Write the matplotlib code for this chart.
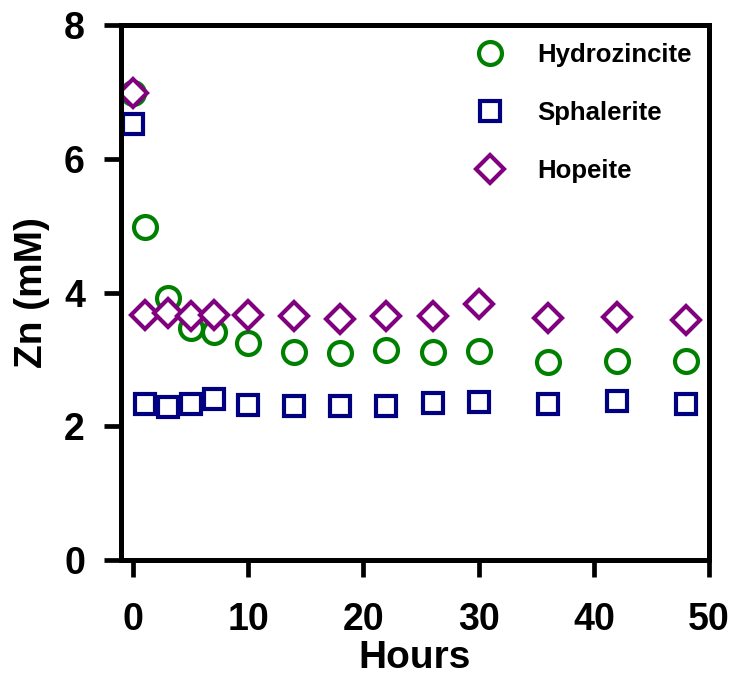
import matplotlib
matplotlib.use("Agg")
import matplotlib.pyplot as plt

plt.rcParams['font.family'] = ['Liberation Sans', 'DejaVu Sans']
plt.rcParams['font.weight'] = 'bold'

# Zn concentration (mM) over time (hours)
hours = [0, 1, 3, 5, 7, 10, 14, 18, 22, 26, 30, 36, 42, 48]
hydrozincite = [6.98, 4.98, 3.92, 3.47, 3.41, 3.24, 3.11, 3.10, 3.14, 3.11, 3.12, 2.96, 2.97, 2.98]
sphalerite = [6.52, 2.33, 2.29, 2.34, 2.41, 2.32, 2.30, 2.30, 2.30, 2.35, 2.36, 2.33, 2.38, 2.33]
hopeite = [6.98, 3.66, 3.69, 3.65, 3.66, 3.66, 3.65, 3.60, 3.65, 3.65, 3.83, 3.62, 3.64, 3.59]

fig = plt.figure(figsize=(7.36, 6.88), dpi=100)
ax = fig.add_axes([0.1644, 0.186, 0.799, 0.7776])

ax.plot(hours, hydrozincite, 'o', ms=16.5, mec='green', mfc='white', mew=3,
        label='Hydrozincite', linestyle='none')
ax.plot(hours, sphalerite, 's', ms=14, mec='navy', mfc='white', mew=3,
        label='Sphalerite', linestyle='none')
ax.plot(hours, hopeite, 'D', ms=14, mec='purple', mfc='white', mew=3,
        label='Hopeite', linestyle='none')

ax.set_xlim(-1.04, 50)
ax.set_ylim(0, 8)
ax.set_xticks([0, 10, 20, 30, 40, 50])
ax.set_yticks([0, 2, 4, 6, 8])

for s in ax.spines.values():
    s.set_linewidth(3.6)
ax.tick_params(axis='both', direction='out', length=12, width=3.4, labelsize=27)
ax.tick_params(axis='x', pad=18, top=False)
ax.tick_params(axis='y', pad=14, right=False)

ax.set_xlabel('Hours', fontsize=28, fontweight='bold', labelpad=2)
ax.set_ylabel('Zn (mM)', fontsize=28, fontweight='bold', labelpad=10)

ax.legend(loc='upper left', bbox_to_anchor=(0.6495, 0.937), bbox_transform=fig.transFigure,
          frameon=False, fontsize=18.5, handlelength=0.93, handletextpad=1.36,
          labelspacing=1.32, borderaxespad=0, borderpad=0, numpoints=1)

fig.savefig('out.png', dpi=100)
